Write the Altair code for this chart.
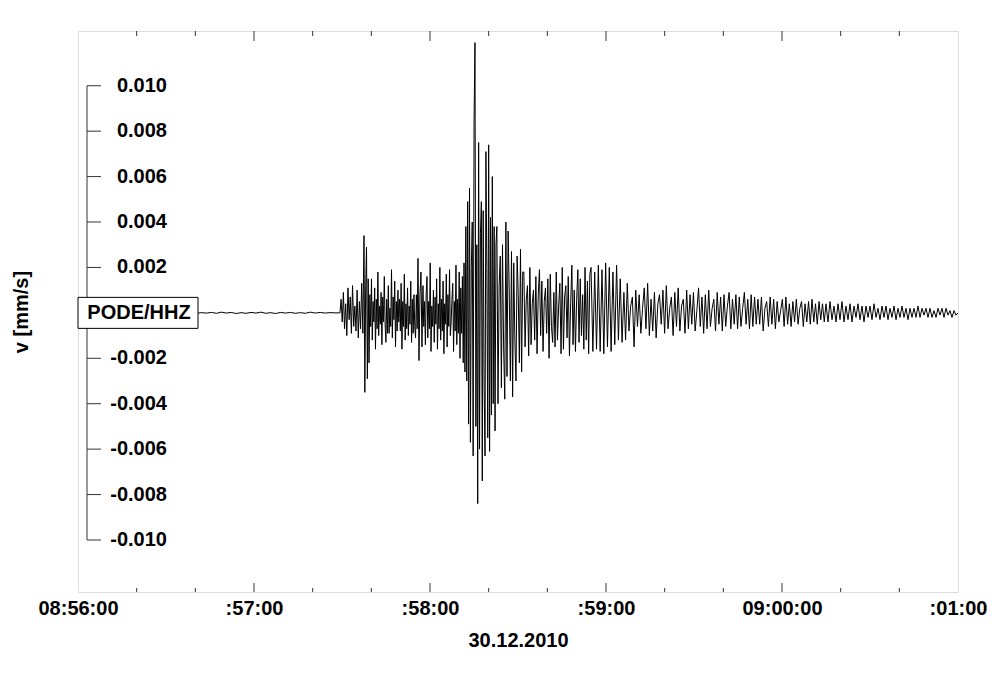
import json
import numpy as np
import pandas as pd
import altair as alt

# ---------------- data (values in units of 1e-4 mm/s) ----------------
SEG_BOUNDS_S = [0.0, 89.3, 97.5, 99.5, 115.9, 117.6, 131.6, 142.8, 152.0,
                174.9, 186.1, 231.8, 255.0, 300.0]

SEG_A = [0, 0.2, -0.3, 0.1, -0.2, 0.3, -0.1, 0.2, -0.2, 0.1, -0.3, 0.2, -0.1, 0.3,
         -0.2, 0.1, -0.1, 0.2, -0.3, 0.2, -0.1, 0.1, -0.2, 0.3, -0.2, 0.1, -0.1,
         0.2, -0.2, 0.3, -0.1, 0.2, -0.3, 0.1, -0.2, 0.2, -0.1, 0.3, -0.2, 0.1,
         -0.3, 0.2, -0.1, 0.2, -0.2, 0.1, -0.2, 0.3, -0.1, 0.2, -0.1, 0.1, 0]
SEG_B = [0, 6, -4, 9, -7, 4, -10, 11, -3, 7, -9, 12, -6, 3, -8, 10, -11, 5, -7,
         13, -9]
SEG_C = [34, -35, 12, 29, -29, 15, -22]
SEG_D = [8, -6, 15, -12, 5, -4, 11, -16, 6, -7, 18, -10, 3, -5, 9, -14, 7, -4,
         16, -5, -13, 6, -9, 12, -9, 2, -6, 19, -11, 7, -3, 14, -15, 5, -8, 10,
         -4, 6, -8, 13, -16, 5, -6, 17, -12, 4, -7, 11, -10, 3, -5, 14, -13, 6,
         -9, 8, -6, -11, 8, -7]
SEG_E = [24, -21, 8, 18, -15]
SEG_F = [12, -6, 5, -14, 8, 16, -11, 5, -7, 22, -17, 3, -6, 10, -13, 7, -5, 15,
         -16, 4, -7, 20, -12, 6, -8, 14, -18, 4, -5, 17, -15, 8, -6, 19, -10, -4,
         6, 13, -17, 5, -8, 21, -14, 6, -9, 18, -20, 11, -9, 16, -22]
SEG_G = [22, -26, 38, -30, 49, -49, 55, -57, 20, 40, -63, 85, 119, -50, 30, -84,
         75, -60, 35, 49, -74, 45, -30, -63, 71, 20, -55, 74, -61, 42, -45, 60,
         -40, 38, -52, 30]
SEG_H = [38, -40, 12, 25, -33, 30, -15, -38, 40, -28, 36, 10, -30, 27, -37, 22,
         -12, -30, 25, 8, -22, 28, -26, 18]
SEG_I = [18, -15, 6, 12, -19, 20, -14, 4, 10, -12, 16, -18, 8, 19, -10, 14, -17,
         5, 11, -9, 15, -20, 17, -6, -13, 9, -15, 18, -12, 3, 13, -18, 20, -16, 7,
         12, -11, 16, -19, 4, 21, -14, 10, -17, 6, 19, -13, 15, -10, 8, -16, 20,
         -12, 14, -18, 17]
SEG_J = [20, -17, 18, -16, 21, -17, 19, -18, 22, -15, 20, -17, 18, -14, 21, -12,
         15, -13]
SEG_K = [9, -12, 13, -8, 3, 7, -15, 10, -6, 8, -9, 2, 11, -7, 13, -10, 6, -8, 9,
         -11, 4, 8, -5, 10, -9, 12, -7, 2, 7, -10, 9, -6, 11, -8, 3, 6, -9, 10,
         -7, 8, -5, 9, -8, 1, 11, -6, 7, -9, 8, -7, 10, -6, 2, 6, -8, 9, -5, 7,
         -8, 8, -6, 3, 9, -7, 6, -5, 8, -7, 7, -6, 2, 9, -5, 6, -7, 8, -6, 7, -5]
SEG_L = [6, -5, 7, -8, 2, 5, -6, 7, -5, 6, -7, 5, -4, 1, 6, -6, 7, -5, 4, -6, 5,
         -4, 6, -5, 2, 5, -6, 4, -4, 5, -5, 6, -4, 4, -5, 5, -3, 4, -4]
SEG_M = [4, -4, 5, -3, 3, -4, 4, -3, 5, -4, 3, -3, 4, -4, 3, -2, 4, -3, 3, -4,
         3, -2, 3, -3, 4, -2, 2, -3, 3, -2, 3, -3, 2, -2, 3, -3, 2, -2, 3, -2,
         2, -3, 2, -2, 2, -2, 3, -2, 2, -1, 2, -2, 2, -2, 1, -2, 2, -1, 2, -2,
         2, -1, 1, -2, 1, -1, 0]
SEGMENTS = [SEG_A, SEG_B, SEG_C, SEG_D, SEG_E, SEG_F, SEG_G, SEG_H, SEG_I,
            SEG_J, SEG_K, SEG_L, SEG_M]

X_TICK_LABELS = ["08:56:00", ":57:00", ":58:00", ":59:00", "09:00:00", ":01:00"]
Y_TICK_VALUES = [0.010, 0.008, 0.006, 0.004, 0.002,
                 -0.002, -0.004, -0.006, -0.008, -0.010]
STATION = "PODE/HHZ"
X_TITLE = "30.12.2010"
Y_TITLE = "v [mm/s]"

# ---------------- build table ----------------
rows_t, rows_v = [], []
for i, seg in enumerate(SEGMENTS):
    t0, t1 = SEG_BOUNDS_S[i], SEG_BOUNDS_S[i + 1]
    last = i == len(SEGMENTS) - 1
    ts = np.linspace(t0, t1, len(seg), endpoint=last)
    rows_t.extend(ts.tolist())
    rows_v.extend([v * 1e-4 for v in seg])
wave = pd.DataFrame({"t": rows_t, "v": rows_v})

FONT = "Liberation Sans"
W, H = 880, 561
xscale = alt.Scale(domain=[0, 300], nice=False, zero=False)
yscale = alt.Scale(domain=[-0.01229, 0.01241], nice=False, zero=False)

label_expr = f"{json.dumps(X_TICK_LABELS)}[round(datum.value / 60)]"
XAXIS = alt.Axis(values=[0, 60, 120, 180, 240, 300], labelExpr=label_expr,
                 ticks=False, domain=False, grid=False, labelFlush=False,
                 labelFont=FONT, labelFontSize=20, labelFontWeight="bold",
                 labelColor="black", labelPadding=6,
                 title=X_TITLE, titleFont=FONT, titleFontSize=20,
                 titleFontWeight="bold", titleColor="black", titlePadding=12)
YAXIS = alt.Axis(labels=False, ticks=False, domain=False, grid=False,
                 title=Y_TITLE, titleFont=FONT, titleFontSize=20,
                 titleFontWeight="bold", titleColor="black", titlePadding=47)


def X(field):
    return alt.X(field, scale=xscale, axis=XAXIS)


def Y(field):
    return alt.Y(field, scale=yscale, axis=YAXIS)


line = alt.Chart(wave).mark_line(color="black", strokeWidth=1, clip=True).encode(
    x=X("t:Q"), y=Y("v:Q"))

# manual inner y axis
yaxis_df = pd.DataFrame({"a": [max(Y_TICK_VALUES)], "b": [min(Y_TICK_VALUES)]})
yaxis_line = alt.Chart(yaxis_df).mark_rule(color="#333", strokeWidth=1).encode(
    x=alt.value(9), y=Y("a:Q"), y2="b:Q")
ticks_df = pd.DataFrame({"v": Y_TICK_VALUES,
                         "lab": [f"{v:.3f}" for v in Y_TICK_VALUES]})
yaxis_ticks = alt.Chart(ticks_df).mark_rule(color="#333", strokeWidth=1).encode(
    x=alt.value(9), x2=alt.value(23), y=Y("v:Q"))
yaxis_labels = alt.Chart(ticks_df).mark_text(
    align="right", baseline="middle", font=FONT, fontSize=20, fontWeight="bold",
    color="black").encode(x=alt.value(89), y=Y("v:Q"), text="lab:N")

# station box
box_df = pd.DataFrame({"v": [0.0], "name": [STATION]})
box = alt.Chart(box_df).mark_rect(fill="white", stroke="black", strokeWidth=1,
                                  height=31).encode(
    x=alt.value(0), x2=alt.value(120), y=Y("v:Q"))
box_text = alt.Chart(box_df).mark_text(
    align="center", baseline="middle", font=FONT, fontSize=20, fontWeight="bold",
    color="black").encode(x=alt.value(61), y=Y("v:Q"), text="name:N")

# inward x ticks (bottom & top)
major = pd.DataFrame({"t": [60, 120, 180, 240]})
minor = pd.DataFrame({"t": [20, 40, 80, 100, 140, 160, 200, 220, 260, 280]})


def tick_layer(df, y0, y1):
    return alt.Chart(df).mark_rule(color="#333", strokeWidth=1).encode(
        x=X("t:Q"), y=alt.value(y0), y2=alt.value(y1))


ticks = [tick_layer(major, H, H - 9), tick_layer(minor, H, H - 4),
         tick_layer(major, 0, 10), tick_layer(minor, 0, 5)]

chart = alt.layer(yaxis_line, yaxis_ticks, line, box, box_text, yaxis_labels,
                  *ticks).properties(
    width=W, height=H,
    padding={"left": 70, "top": 23, "right": 34, "bottom": 70},
    autosize=alt.AutoSizeParams(type="none"),
).configure_view(stroke="black", strokeWidth=1.6).configure(background="white")

chart.save("out.html", embed_options={"renderer": "svg", "actions": False})
